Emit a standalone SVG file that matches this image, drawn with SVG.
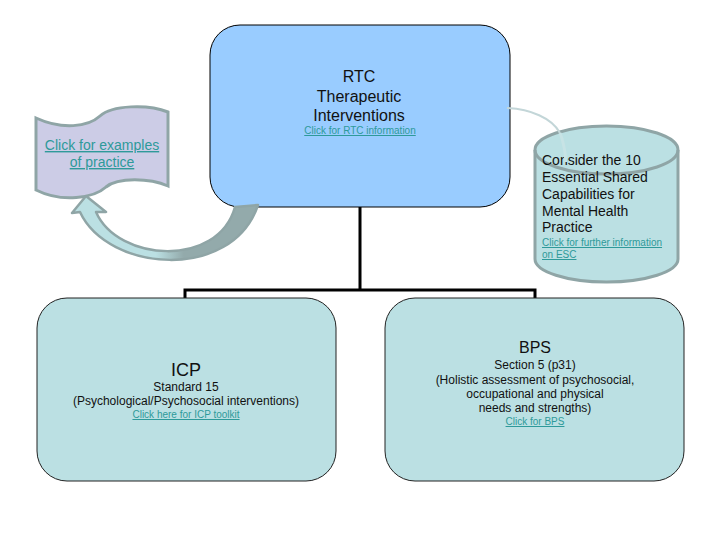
<svg xmlns="http://www.w3.org/2000/svg" width="720" height="540" viewBox="0 0 720 540">
<style>
text{font-family:"Liberation Sans",Arial,sans-serif;fill:#111;}
.c{text-anchor:middle;}
.lnk{fill:#2E9A9A;text-decoration:underline;font-size:10px;}
.box{fill:#BBE0E3;stroke:#222;stroke-width:1;}
.conn{fill:none;stroke:#000;stroke-width:3;}
</style>
<defs>
<linearGradient id="arrG" x1="0" y1="0" x2="1" y2="0">
<stop offset="0" stop-color="#BBE0E3"/>
<stop offset="0.45" stop-color="#BBE0E3"/>
<stop offset="0.6" stop-color="#93AAAB"/>
<stop offset="1" stop-color="#93AAAB"/>
</linearGradient>
</defs>
<rect width="720" height="540" fill="#fff"/>
<g id="connectors">
<path class="conn" d="M360 207V290M185 298V290H535V298"/>
</g>
<g id="rtc">
<rect x="210" y="25" width="300" height="182" rx="30" fill="#99CCFF" stroke="#000" stroke-width="1"/>
<text class="c" x="359" y="82" font-size="16">RTC</text>
<text class="c" x="359" y="101.5" font-size="16">Therapeutic</text>
<text class="c" x="359" y="121" font-size="16">Interventions</text>
<text class="c lnk" x="360" y="134">Click for RTC information</text>
</g>
<g id="icp">
<rect class="box" x="37" y="298" width="299" height="183" rx="30"/>
<text class="c" x="186" y="376" font-size="18">ICP</text>
<text class="c" x="186" y="391" font-size="12">Standard 15</text>
<text class="c" x="186" y="405" font-size="12">(Psychological/Psychosocial interventions)</text>
<text class="c lnk" x="186" y="418">Click here for ICP toolkit</text>
</g>
<g id="bps">
<rect class="box" x="385" y="298" width="299" height="183" rx="30"/>
<text class="c" x="535" y="353" font-size="16">BPS</text>
<text class="c" x="535" y="369" font-size="12">Section 5 (p31)</text>
<text class="c" x="535" y="384" font-size="12">(Holistic assessment of psychosocial,</text>
<text class="c" x="535" y="398" font-size="12">occupational and physical</text>
<text class="c" x="535" y="412" font-size="12">needs and strengths)</text>
<text class="c lnk" x="535" y="425">Click for BPS</text>
</g>
<g id="esc">
<path d="M535 150V259A71.5 23 0 0 0 678 259V150A71.5 24 0 0 0 535 150Z" fill="#BBE0E3" stroke="#8FA5A6" stroke-width="3"/>
<path d="M535 150A71.5 24 0 0 0 678 150" fill="none" stroke="#8FA5A6" stroke-width="3"/>
<text x="542" y="165" font-size="14">Consider the 10</text>
<text x="542" y="182" font-size="14">Essential Shared</text>
<text x="542" y="199" font-size="14">Capabilities for</text>
<text x="542" y="216" font-size="14">Mental Health</text>
<text x="542" y="232" font-size="14">Practice</text>
<text class="lnk" x="542" y="246">Click for further information</text>
<text class="lnk" x="542" y="258">on ESC</text>
</g>
<g id="esc-link">
<path d="M507 108C530 109 552 118 560 133" fill="none" stroke="#C3D6D8" stroke-width="2"/>
<path d="M560 133C563 140 565 150 566 162" fill="none" stroke="#C7E3E5" stroke-width="3"/>
</g>
<g id="practice">
<path d="M36 118C62 130 88 127 100 116C112 105 148 104 168 112V186C150 178 118 177 106 187C94 198 62 203 36 190Z" fill="#CCCCE6" stroke="#8FA5A6" stroke-width="3"/>
<text class="c lnk" x="102" y="150" style="font-size:14px">Click for examples</text>
<text class="c lnk" x="102" y="167" style="font-size:14px">of practice</text>
</g>
<g id="curved-arrow">
<path d="M86 196L106 212L96 212C118 262 218 268 235 207L258 205C232 282 108 272 80 212L72 213Z" fill="url(#arrG)" stroke="#8FA5A6" stroke-width="2.5" stroke-linejoin="round"/>
</g>
</svg>
